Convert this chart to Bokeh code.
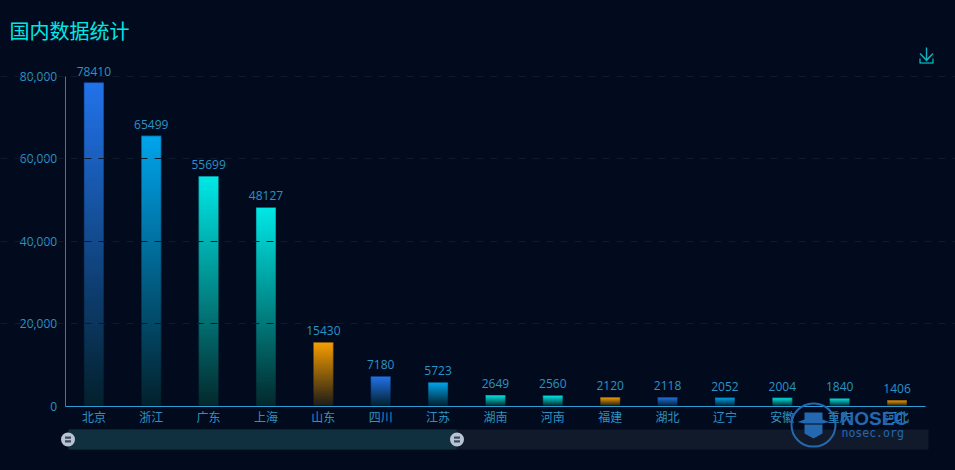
from bokeh.plotting import figure
from bokeh.models import ColumnDataSource, Range1d, FixedTicker, NumeralTickFormatter, BoxAnnotation, PolyAnnotation, Label
from bokeh.embed import file_html
from bokeh.resources import INLINE
from bokeh.core.properties import value

provinces = ["北京", "浙江", "广东", "上海", "山东", "四川", "江苏", "湖南", "河南", "福建", "湖北", "辽宁", "安徽", "重庆", "河北"]
counts = [78410, 65499, 55699, 48127, 15430, 7180, 5723, 2649, 2560, 2120, 2118, 2052, 2004, 1840, 1406]
palette = ["#2273ea", "#00a5ec", "#00e8e6", "#00e8e6", "#f79e00"]
fade_to = ["#03202c", "#03202c", "#03282c", "#03282c", "#1e1c18"]
bar_colors = [palette[i % 5] for i in range(len(provinces))]
bar_fades = [fade_to[i % 5] for i in range(len(provinces))]
y_ticks = [0, 20000, 40000, 60000, 80000]
grid_ticks = [20000, 40000, 60000, 80000]
BG = "#020b1e"
CJK = "Noto Sans CJK SC"
LATIN = "Open Sans"
TXT = "#2b93c4"

W, H = 955, 470
PLOT_L, PLOT_R, PLOT_T, PLOT_B = 64.7, 925.2, 75.5, 405.5
n_cat = len(provinces)
ux = (PLOT_R - PLOT_L) / n_cat
uy = 80000 / (PLOT_B - PLOT_T)
centers = [i + 0.5 for i in range(n_cat)]


def blend(c, bg, a):
    ci = [int(c[i:i + 2], 16) for i in (1, 3, 5)]
    bi = [int(bg[i:i + 2], 16) for i in (1, 3, 5)]
    return "#%02x%02x%02x" % tuple(round(b + (x - b) * a) for x, b in zip(ci, bi))


# the frame fills the page, so that the decoration around the chart is not clipped
p = figure(width=W, height=H, output_backend="svg", toolbar_location=None,
           x_range=Range1d(-PLOT_L / ux, (W - PLOT_L) / ux),
           y_range=Range1d(-(H - PLOT_B) * uy, PLOT_B * uy),
           background_fill_color=BG, border_fill_color=BG, outline_line_color=None,
           min_border=0, min_border_left=0, min_border_right=0, min_border_top=0, min_border_bottom=0)

# gradient bars: stacked opaque slices fading towards the axis
xs, tops, bottoms, cols = [], [], [], []
for x, v, c, f in zip(centers, counts, bar_colors, bar_fades):
    n = max(8, round(v / uy))
    for i in range(n):
        xs.append(x)
        bottoms.append(v * i / n)
        tops.append(v * min(i + 2, n) / n)
        cols.append(blend(c, f, (i + 0.5) / n))
p.vbar(x=xs, top=tops, bottom=bottoms, width=0.348, fill_color=cols, line_color=None)

src = ColumnDataSource(dict(x=centers, top=counts, lab=[str(v) for v in counts]))
p.vbar(x="x", top="top", width=0.348, source=src, fill_color=None, line_color=BG, line_alpha=0.45, line_width=1)
p.text(x="x", y="top", text="lab", source=src, text_align="center", text_baseline="bottom", y_offset=-7,
       text_color=TXT, text_font=value(LATIN), text_font_size="12px")

p.xgrid.visible = False
p.ygrid.level = "overlay"
p.ygrid.bounds = (0, n_cat)
p.ygrid.ticker = FixedTicker(ticks=grid_ticks)
p.ygrid.grid_line_color = "#0e1a2c"
p.ygrid.grid_line_dash = "7 7"
p.ygrid.grid_line_width = 1

p.yaxis.fixed_location = 0
p.yaxis.ticker = FixedTicker(ticks=y_ticks)
p.yaxis.bounds = (0, 80000)
p.yaxis.formatter = NumeralTickFormatter(format="0,0")
p.yaxis.axis_line_color = "#2e7fa8"
p.yaxis.major_tick_line_color = None
p.yaxis.major_tick_out = 0
p.yaxis.minor_tick_line_color = None
p.yaxis.major_label_text_color = TXT
p.yaxis.major_label_text_font = LATIN
p.yaxis.major_label_text_font_size = "12px"
p.yaxis.major_label_standoff = 8

p.xaxis.fixed_location = 0
p.xaxis.ticker = FixedTicker(ticks=centers)
p.xaxis.major_label_overrides = {c: name for c, name in zip(centers, provinces)}
p.xaxis.bounds = (0, n_cat)
p.xaxis.axis_line_color = "#2a9fd6"
p.xaxis.major_tick_line_color = None
p.xaxis.major_tick_out = 0
p.xaxis.minor_tick_line_color = None
p.xaxis.major_label_text_color = TXT
p.xaxis.major_label_text_font = CJK
p.xaxis.major_label_text_font_size = "12px"
p.xaxis.major_label_standoff = 2


def box(l, r, t, b, fill, alpha=1.0, line=None, radius=0, lw=1, line_alpha=1.0):
    p.add_layout(BoxAnnotation(left=l, right=r, top=t, bottom=b, level="overlay",
                               left_units="canvas", right_units="canvas", top_units="canvas", bottom_units="canvas",
                               fill_color=fill, fill_alpha=alpha, line_color=line, line_width=lw, line_alpha=line_alpha,
                               border_radius=radius, editable=False))


def poly(x, y, fill=None, alpha=1.0, line=None, lw=1):
    p.add_layout(PolyAnnotation(xs=x, ys=y, xs_units="canvas", ys_units="canvas", level="overlay",
                                fill_color=fill, fill_alpha=alpha if fill else 0, line_color=line, line_width=lw,
                                line_alpha=1 if line else 0))


def label(x, y, text, color, size, font, baseline="alphabetic", style="normal", alpha=1.0):
    p.add_layout(Label(x=x, y=y, x_units="canvas", y_units="canvas", text=text, text_color=color, level="overlay",
                       text_font_size=size, text_font=font, text_baseline=baseline, text_font_style=style,
                       text_alpha=alpha))


# title
label(9, 30, "国内数据统计", "#00e8e6", "20px", CJK)

# download icon
poly([925.3, 926.7, 926.7, 925.3], [47, 47, 60, 60], fill="#0fb0c0")
poly([919, 920, 926, 932, 933, 926], [53.5, 52.5, 58.5, 52.5, 53.5, 61], fill="#0fb0c0")
poly([919, 920, 920, 932, 932, 933, 933, 919], [58, 58, 62, 62, 58, 58, 63, 63], fill="#00e8e6")

# zoom slider
box(68, 928, 429, 449, "#111a2a")
box(68, 456, 429, 449, "#11303f")
for cx in (67.5, 456.5):
    box(cx - 7, cx + 7, 432, 446, "#b8c4d4", radius=7)
    box(cx - 3, cx + 3, 436, 438.2, "#3c4a5e")
    box(cx - 3, cx + 3, 439.8, 442, "#3c4a5e")

# watermark
LOGO = "#2468b0"
box(791, 835, 403, 446, BG, alpha=0, line=LOGO, radius=22, lw=2)
poly([804, 822, 822, 829, 822, 804, 797, 804], [412, 412, 419, 421.5, 423, 423, 421.5, 419], fill=LOGO)
poly([804, 822, 822, 813, 804], [424, 424, 433, 438, 433], fill=LOGO)
label(840, 418, "NOSEC", LOGO, "19px", "Liberation Sans", style="bold")
label(841, 432.5, "nosec.org", LOGO, "11.5px", "DejaVu Sans Mono", baseline="middle")

html = file_html(p, INLINE)
html = html.replace("<head>", "<head><style>html,body{background:%s}</style>" % BG, 1)
open("out.html", "w").write(html)
